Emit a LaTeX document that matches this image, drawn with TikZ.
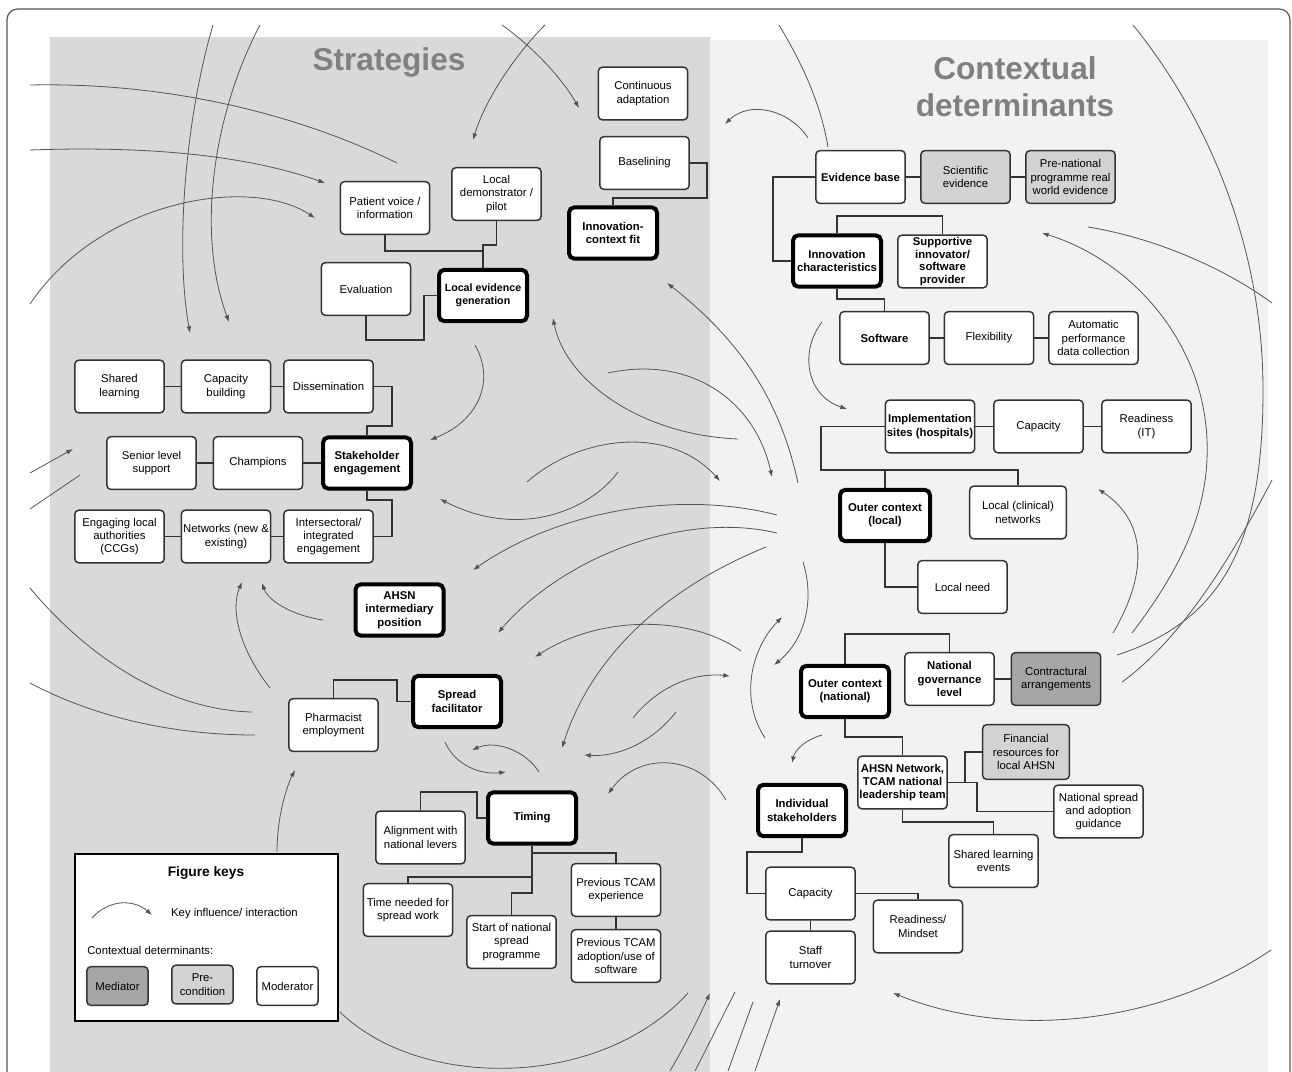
\documentclass[tikz,border=0pt]{standalone}
\usepackage{fontspec}
\setmainfont{Liberation Sans}
\usetikzlibrary{arrows.meta}
\definecolor{lgrey}{HTML}{D9D9D9}
\definecolor{rgrey}{HTML}{F2F2F2}
\definecolor{boxc}{HTML}{333333}
\definecolor{curvc}{HTML}{555555}
\definecolor{prec}{HTML}{D3D3D3}
\definecolor{medc}{HTML}{A6A6A6}
\definecolor{titc}{HTML}{808080}
\tikzset{
 box/.style={draw=boxc, line width=1.1pt, rounded corners=3pt, fill=white, align=center, minimum width=67pt, minimum height=39.5pt, inner sep=0.5pt, font=\fontsize{8.5}{10}\selectfont},
 boldtxt/.style={box, font=\fontsize{8.5}{10}\selectfont\bfseries},
 strat/.style={box, draw=black, line width=3pt, rounded corners=4pt, minimum width=66pt, minimum height=38.5pt, font=\fontsize{8.5}{10}\selectfont\bfseries},
 pre/.style={fill=prec},
 med/.style={fill=medc},
 con/.style={draw=boxc, line width=1pt},
 inf/.style={draw=curvc, line width=0.6pt},
 infa/.style={inf, -{Latex[length=5pt,width=3.6pt]}},
 keyfont/.style={font=\fontsize{8.5}{10}\selectfont},
}
\begin{document}
\begin{tikzpicture}[x=0.75pt,y=-0.75pt]
\useasboundingbox (0,0) rectangle (1292,1071);
\clip (0,0) rectangle (1292,1071);
\fill[white] (0,0) rectangle (1292,1071);
\fill[lgrey] (50,37) rectangle (710,1080);
\fill[rgrey] (710,40) rectangle (1268,1080);
\draw[draw=curvc, line width=0.9pt, rounded corners=8pt] (7,1090) -- (7,9) -- (1290,9) -- (1290,1090);

% titles
\node[font=\fontsize{23.7}{28}\selectfont\bfseries, text=titc] (tstrat) at (389,62) {Strategies};
\node[font=\fontsize{23.7}{27.75}\selectfont\bfseries, text=titc, align=center] (tctx) at (1015,87) {Contextual\\determinants};

% ---------- curves ----------
\draw[inf] (30,85) .. controls (170,82) and (300,115) .. (397,163);
\draw[infa] (30,150) .. controls (170,145) and (260,160) .. (325,183);
\draw[infa] (30,304) .. controls (100,200) and (250,175) .. (315,218);
\draw[infa] (213,25) .. controls (185,120) and (175,250) .. (190,333);
\draw[infa] (260,25) .. controls (215,110) and (195,230) .. (229,322);
\draw[infa] (502,25) .. controls (530,45) and (560,75) .. (579,108);
\draw[infa] (545,25) .. controls (515,55) and (485,100) .. (473,140);
\draw[infa] (808,138) .. controls (790,110) and (750,100) .. (725,124);
\draw[inf] (779,25) .. controls (800,60) and (820,100) .. (828,147);
\draw[inf] (1133,25) .. controls (1210,120) and (1263,250) .. (1263,390) .. controls (1263,540) and (1225,620) .. (1117,655);
\draw[infa] (1132,633) .. controls (1180,570) and (1210,510) .. (1207,440) .. controls (1203,340) and (1130,260) .. (1042,233);
\draw[inf] (1088,227) .. controls (1150,237) and (1220,265) .. (1272,303);
\draw[inf] (1272,480) .. controls (1230,560) and (1180,640) .. (1122,682);
\draw[infa] (1113,633) .. controls (1150,570) and (1145,520) .. (1098,489);
\draw[infa] (1271,950) .. controls (1160,1025) and (1010,1040) .. (893,993);
\draw[infa] (822,322) .. controls (800,350) and (805,395) .. (847,409);
\draw[infa] (475,345) .. controls (495,380) and (480,420) .. (430,440);
\draw[infa] (738,439) .. controls (640,435) and (565,380) .. (553,318);
\draw[infa] (608,373) .. controls (690,355) and (755,400) .. (772,477);
\draw[infa] (798,483) .. controls (780,400) and (740,340) .. (667,283);
\draw[infa] (527,482) .. controls (580,435) and (670,425) .. (720,481);
\draw[infa] (618,472) .. controls (590,510) and (520,540) .. (440,499);
\draw[infa] (777,515) .. controls (680,490) and (560,510) .. (473,570);
\draw[infa] (777,533) .. controls (680,510) and (560,560) .. (498,633);
\draw[infa] (766,547) .. controls (660,590) and (590,660) .. (562,748);
\draw[infa] (741,651) .. controls (690,615) and (600,615) .. (535,657);
\draw[infa] (803,562) .. controls (815,600) and (805,640) .. (774,665);
\draw[infa] (765,738) .. controls (740,700) and (750,650) .. (782,617);
\draw[infa] (633,718) .. controls (655,690) and (690,672) .. (730,676);
\draw[infa] (676,712) .. controls (650,745) and (615,757) .. (584,755);
\draw[infa] (445,742) .. controls (455,765) and (480,775) .. (506,772);
\draw[infa] (539,772) .. controls (525,750) and (495,740) .. (472,750);
\draw[infa] (726,800) .. controls (700,755) and (640,750) .. (608,794);
\draw[infa] (822,735) .. controls (805,740) and (795,750) .. (792,763);
\draw[infa] (30,473) -- (73,449);
\draw[inf] (30,509) -- (80,475);
\draw[inf] (30,588) .. controls (90,660) and (170,710) .. (252,712);
\draw[inf] (30,683) .. controls (100,720) and (180,735) .. (255,735);
\draw[infa] (270,688) .. controls (240,650) and (230,610) .. (242,582);
\draw[infa] (323,620) .. controls (290,615) and (268,600) .. (262,583);
\draw[infa] (277,852) .. controls (277,820) and (285,790) .. (295,770);
\draw[inf] (340,1012) .. controls (420,1090) and (600,1090) .. (688,993);
\draw[infa] (670,1071) .. controls (688,1040) and (700,1015) .. (710,993);
\draw[inf] (695,1071) -- (735,992);
\draw[inf] (728,1071) -- (753,1002);
\draw[infa] (755,1071) -- (780,999);

% ---------- strategies nodes ----------
\node[box] (ca) at (643,93.5) {Continuous\\adaptation};
\node[box] (bl) at (644.5,163) {Baselining};
\node[strat] (icf) at (613,233) {Innovation-\\context fit};
\node[box] (ldp) at (496.5,194) {Local\\demonstrator /\\pilot};
\node[strat, font=\fontsize{8}{10}\selectfont\bfseries] (leg) at (483,295.5) {Local evidence\\generation};
\node[box] (pv) at (385,208) {Patient voice /\\information};
\node[box] (ev) at (366,289) {Evaluation};
\node[box] (sl) at (119.5,386.5) {Shared\\learning};
\node[box] (cb) at (226,386.5) {Capacity\\building};
\node[box] (dis) at (328.5,386.5) {Dissemination};
\node[box] (sls) at (151.5,463) {Senior level\\support};
\node[box] (ch) at (258,463) {Champions};
\node[strat] (se) at (367,463) {Stakeholder\\engagement};
\node[box] (ela) at (119.5,536.5) {Engaging local\\authorities\\(CCGs)};
\node[box] (net) at (226,536.5) {Networks (new \&\\existing)};
\node[box] (ie) at (328.5,536.5) {Intersectoral/\\integrated\\engagement};
\node[strat] (ahsn) at (399.5,610) {AHSN\\intermediary\\position};
\node[box] (pe) at (333.5,725) {Pharmacist\\employment};
\node[strat] (sf) at (457,701.5) {Spread\\facilitator};
\node[strat] (tim) at (532,818) {Timing};
\node[box] (anl) at (420.5,837.5) {Alignment with\\national levers};
\node[box] (tn) at (408,910) {Time needed for\\spread work};
\node[box] (snsp) at (511.5,942) {Start of national\\spread\\programme};
\node[box] (pte) at (616,890) {Previous TCAM\\experience};
\node[box] (pta) at (616,956) {Previous TCAM\\adoption/use of\\software};

% ---------- context nodes ----------
\node[boldtxt] (eb) at (860.5,177) {Evidence base};
\node[box, pre] (se2) at (965.5,177) {Scientific\\evidence};
\node[box, pre] (pnp) at (1070.5,177) {Pre-national\\programme real\\world evidence};
\node[strat] (ic) at (837,261) {Innovation\\characteristics};
\node[boldtxt, font=\fontsize{8.5}{9.6}\selectfont\bfseries] (sip) at (942.5,261.5) {Supportive\\innovator/\\software\\provider};
\node[boldtxt] (sw) at (884.5,338) {Software};
\node[box] (flex) at (989,338) {Flexibility};
\node[box] (apdc) at (1093.5,338) {Automatic\\performance\\data collection};
\node[boldtxt] (is) at (930,426.5) {Implementation\\sites (hospitals)};
\node[box] (cap1) at (1038.5,426.5) {Capacity};
\node[box] (rit) at (1146.5,426.5) {Readiness\\(IT)};
\node[strat, minimum width=67.5pt] (ocl) at (885,515.5) {Outer context\\(local)};
\node[box, minimum width=72.5pt] (lcn) at (1018,512.5) {Local (clinical)\\networks};
\node[box] (ln) at (962.5,587) {Local need};
\node[strat] (ocn) at (845,691.5) {Outer context\\(national)};
\node[boldtxt] (ngl) at (949.5,679) {National\\governance\\level};
\node[box, med] (carr) at (1056,679) {Contractural\\arrangements};
\node[boldtxt, font=\fontsize{8.5}{9.8}\selectfont\bfseries] (ahn) at (902.5,782.5) {AHSN Network,\\TCAM national\\leadership team};
\node[box, pre, minimum width=65pt, minimum height=41pt] (frl) at (1026,752) {Financial\\resources for\\local AHSN};
\node[box] (nsag) at (1098.5,811.5) {National spread\\and adoption\\guidance};
\node[box] (sle) at (993.5,861) {Shared learning\\events};
\node[strat] (ind) at (802,810.5) {Individual\\stakeholders};
\node[box] (cap2) at (810.5,893.5) {Capacity};
\node[box] (st) at (810.5,957.5) {Staff\\turnover};
\node[box] (rm) at (918,926.5) {Readiness/\\Mindset};

% ---------- tree connectors ----------
\draw[con] (ldp.south) |- (483,245) -- (leg.north);
\draw[con] (pv.south) |- (483,251);
\draw[con] (ev.south) |- (424,340) |- (leg.west);
\draw[con] (bl.east) -| (707,198) -| (icf.north);
\draw[con] (sl) -- (cb);
\draw[con] (cb) -- (dis);
\draw[con] (dis.east) -| (392,426) -| (se.north);
\draw[con] (sls) -- (ch);
\draw[con] (ch) -- (se);
\draw[con] (ela) -- (net);
\draw[con] (net) -- (ie);
\draw[con] (ie.east) -| (392,500) -| (se.south);
\draw[con] (pe.north) |- (397,680) |- (sf.west);
\draw[con] (anl.north) |- (477,792) |- (tim.west);
\draw[con] (tim.south) |- (511.5,893) -- (snsp.north);
\draw[con] (tn.north) |- (532,877);
\draw[con] (532,853) -| (pte.north);
\draw[con] (pte) -- (pta);
\draw[con] (eb) -- (se2);
\draw[con] (se2) -- (pnp);
\draw[con] (eb.west) -| (773,261) -- (ic.west);
\draw[con] (ic.north) |- (942.5,216) -- (sip.north);
\draw[con] (ic.south) |- (884.5,299) -- (sw.north);
\draw[con] (sw) -- (flex);
\draw[con] (flex) -- (apdc);
\draw[con] (is.west) -| (821,470) -| (lcn.north);
\draw[con] (ocl.north) -- (885,470);
\draw[con] (is) -- (cap1);
\draw[con] (cap1) -- (rit);
\draw[con] (ocl.south) |- (ln.west);
\draw[con] (ocn.north) |- (949.5,634) -- (ngl.north);
\draw[con] (ngl) -- (carr);
\draw[con] (ocn.south) |- (902.5,737) -- (ahn.north);
\draw[con] (ahn.east) -| (965,752) -- (frl.west);
\draw[con] (ahn.east) -| (977,811.5) -- (nsag.west);
\draw[con] (ahn.south) |- (993.5,822) -- (sle.north);
\draw[con] (ind.south) |- (747,852) |- (cap2.west);
\draw[con] (cap2.east) -| (rm.north);
\draw[con] (cap2) -- (st);

% ---------- figure keys ----------
\node[draw=black, line width=1.5pt, fill=white, minimum width=197.25pt, minimum height=125.25pt, inner sep=0pt] (key) at (206.5,937.5) {};
\node[font=\fontsize{10.3}{12}\selectfont\bfseries] (keyt) at (206,873) {Figure keys};
\draw[infa] (92,918) .. controls (110,898) and (135,900) .. (152,915);
\node[keyfont] (keyl) at (234.5,914) {Key influence/ interaction};
\node[keyfont, anchor=west, inner sep=0pt] (keyc) at (87,950) {Contextual determinants:};
\node[box, med, minimum width=46pt, minimum height=29pt] (kmed) at (117.5,986) {Mediator};
\node[box, pre, minimum width=46pt, minimum height=29pt] (kpre) at (202.5,984.5) {Pre-\\condition};
\node[box, minimum width=46pt, minimum height=29pt] (kmod) at (287.5,986) {Moderator};
\end{tikzpicture}
\end{document}
